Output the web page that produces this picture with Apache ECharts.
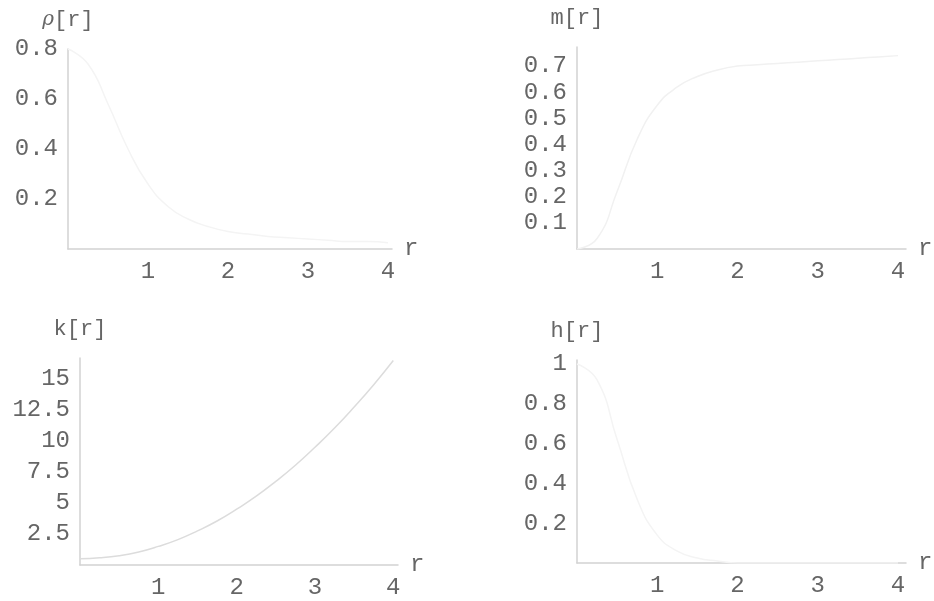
<!DOCTYPE html>
<html>
<head>
<meta charset="utf-8">
<script src="https://cdn.jsdelivr.net/npm/echarts@6/dist/echarts.min.js"></script>
<style>
  html, body { margin: 0; padding: 0; background: #fff; }
  #main { width: 934px; height: 601px; }
</style>
</head>
<body>
<div id="main"></div>
<script>
var chartDom = document.getElementById('main');
var myChart = echarts.init(chartDom);
var option;

// sample radii
var rValues = [0, 0.25, 0.5, 0.75, 1, 1.25, 1.5, 1.75, 2, 2.25, 2.5, 2.75, 3, 3.25, 3.5, 3.75, 4];
var rhoValues = [0.8, 0.74, 0.58, 0.4, 0.26, 0.17, 0.12, 0.09, 0.07, 0.06, 0.05, 0.045, 0.04, 0.035, 0.03, 0.03, 0.025];
var mValues = [0, 0.04, 0.22, 0.42, 0.55, 0.62, 0.66, 0.685, 0.7, 0.705, 0.71, 0.715, 0.72, 0.725, 0.73, 0.735, 0.74];
var kValues = [0.5, 0.58, 0.75, 1.05, 1.5, 2.05, 2.75, 3.55, 4.5, 5.55, 6.75, 8.05, 9.5, 11.05, 12.75, 14.55, 16.5];
var hValues = [1, 0.92, 0.62, 0.32, 0.14, 0.06, 0.025, 0.01, 0, 0, 0, 0, 0, 0, 0, 0, 0];

var xTicks = [1, 2, 3, 4];
var rhoTicks = [0.2, 0.4, 0.6, 0.8];
var mTicks = [0.1, 0.2, 0.3, 0.4, 0.5, 0.6, 0.7];
var kTicks = [2.5, 5, 7.5, 10, 12.5, 15];
var hTicks = [0.2, 0.4, 0.6, 0.8, 1];

function pairs(ys) {
  return rValues.map(function (r, i) { return [r, ys[i]]; });
}

var font = 'Liberation Mono';
var textColor = '#666';
var lineColor = '#d2d2d2';

function xAx(idx, max) {
  return {
    type: 'value', gridIndex: idx, min: 0, max: max,
    name: 'r', nameLocation: 'end', nameGap: 12,
    nameTextStyle: { fontFamily: font, fontSize: 24, color: textColor },
    axisLine: { show: true, lineStyle: { color: lineColor, width: 1.5 } },
    axisTick: { show: false },
    splitLine: { show: false },
    axisLabel: { customValues: xTicks, fontFamily: font, fontSize: 24, color: textColor, margin: 11 }
  };
}

function yAx(idx, max, ticks, name, rich) {
  return {
    type: 'value', gridIndex: idx, min: 0, max: max,
    name: name, nameLocation: 'end', nameGap: 18,
    nameTextStyle: { fontFamily: font, fontSize: 22, color: textColor, rich: rich || {} },
    axisLine: { show: true, onZero: false, lineStyle: { color: lineColor, width: 1.5 } },
    axisTick: { show: false },
    splitLine: { show: false },
    axisLabel: { customValues: ticks, fontFamily: font, fontSize: 24, color: textColor, margin: 10 }
  };
}

function line(idx, ys, color) {
  return {
    type: 'line', xAxisIndex: idx, yAxisIndex: idx,
    data: pairs(ys), smooth: true, symbol: 'none',
    lineStyle: { color: color, width: 1.5 }
  };
}

option = {
  backgroundColor: '#fff',
  animation: false,
  grid: [
    { left: 68, top: 49, width: 324, height: 200 },
    { left: 577, top: 47, width: 329, height: 202 },
    { left: 80, top: 358, width: 318, height: 207 },
    { left: 577, top: 360, width: 329, height: 203 }
  ],
  xAxis: [xAx(0, 4.05), xAx(1, 4.1), xAx(2, 4.06), xAx(3, 4.1)],
  yAxis: [
    yAx(0, 0.8, rhoTicks, '{i|ρ}[r]', { i: { fontFamily: 'DejaVu Serif', fontStyle: 'italic', fontSize: 20, color: textColor } }),
    yAx(1, 0.773, mTicks, 'm[r]'),
    yAx(2, 16.7, kTicks, 'k[r]'),
    yAx(3, 1.02, hTicks, 'h[r]')
  ],
  series: [
    line(0, rhoValues, '#f4f4f4'),
    line(1, mValues, '#f1f1f1'),
    line(2, kValues, '#dcdcdc'),
    line(3, hValues, '#f4f4f4')
  ]
};

option && myChart.setOption(option);
</script>
</body>
</html>
